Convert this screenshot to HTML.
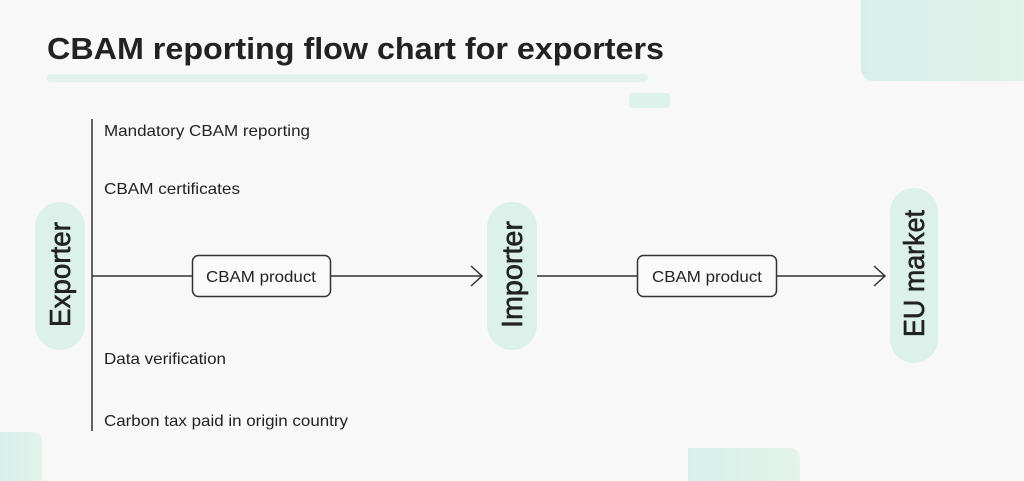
<!DOCTYPE html>
<html><head><meta charset="utf-8"><style>
html,body{margin:0;padding:0;background:#f8f8f8;}
svg{display:block;}
text{font-family:"Liberation Sans",Arial,sans-serif;fill:#222;}
</style></head><body>
<svg width="1024" height="481" viewBox="0 0 1024 481" xmlns="http://www.w3.org/2000/svg">
<defs>
<linearGradient id="g" x1="0" y1="0" x2="1" y2="0">
<stop offset="0" stop-color="#d7efeb"/><stop offset="1" stop-color="#e3f4ea"/>
</linearGradient>
</defs>
<rect width="1024" height="481" fill="#f8f8f8"/>
<!-- decorative -->
<rect x="861" y="-20" width="200" height="101" rx="12" fill="url(#g)"/>
<path d="M0 432 H32 Q42 432 42 442 V481 H0 Z" fill="url(#g)"/>
<path d="M688 448 H788 Q800 448 800 460 V481 H688 Z" fill="url(#g)"/>
<rect x="47" y="74" width="601" height="8" rx="4" fill="#e1f3ec"/>
<rect x="629" y="93" width="41" height="15" rx="3" fill="#ddf2eb"/>
<!-- title -->
<text x="47" y="59" font-size="31" font-weight="bold" textLength="617" lengthAdjust="spacingAndGlyphs">CBAM reporting flow chart for exporters</text>
<!-- lines -->
<g stroke="#333" stroke-width="1.5" fill="none">
<line x1="92" y1="119" x2="92" y2="431"/>
<line x1="92" y1="276" x2="192" y2="276"/>
<line x1="331" y1="276" x2="482" y2="276"/>
<polyline points="471,266 482,276 471,286"/>
<line x1="537" y1="276" x2="637" y2="276"/>
<line x1="776" y1="276" x2="885" y2="276"/>
<polyline points="874,266 885,276 874,286"/>
<rect x="192.5" y="255.5" width="138" height="41" rx="6" fill="#fafafa"/>
<rect x="637.5" y="255.5" width="139" height="41" rx="6" fill="#fafafa"/>
</g>
<!-- side labels -->
<text x="104" y="136" font-size="16" textLength="206" lengthAdjust="spacingAndGlyphs">Mandatory CBAM reporting</text>
<text x="104" y="194" font-size="16" textLength="136" lengthAdjust="spacingAndGlyphs">CBAM certificates</text>
<text x="104" y="364" font-size="16" textLength="122" lengthAdjust="spacingAndGlyphs">Data verification</text>
<text x="104" y="426" font-size="16" textLength="244" lengthAdjust="spacingAndGlyphs">Carbon tax paid in origin country</text>
<!-- box labels -->
<text x="261" y="282" font-size="16" text-anchor="middle" textLength="110" lengthAdjust="spacingAndGlyphs">CBAM product</text>
<text x="707" y="282" font-size="16" text-anchor="middle" textLength="110" lengthAdjust="spacingAndGlyphs">CBAM product</text>
<!-- pills -->
<rect x="35" y="202" width="50" height="148" rx="25" fill="#dcf1ea"/>
<rect x="487" y="202" width="50" height="148" rx="25" fill="#dcf1ea"/>
<rect x="890" y="188" width="48" height="175" rx="24" fill="#dcf1ea"/>
<g stroke="#222" stroke-width="0.6">
<text transform="translate(70,274.5) rotate(-90)" font-size="29" text-anchor="middle" textLength="105" lengthAdjust="spacingAndGlyphs">Exporter</text>
<text transform="translate(522,274.5) rotate(-90)" font-size="29" text-anchor="middle" textLength="107" lengthAdjust="spacingAndGlyphs">Importer</text>
<text transform="translate(924,273.5) rotate(-90)" font-size="29" text-anchor="middle" textLength="127" lengthAdjust="spacingAndGlyphs">EU market</text>
</g>
</svg>
</body></html>
